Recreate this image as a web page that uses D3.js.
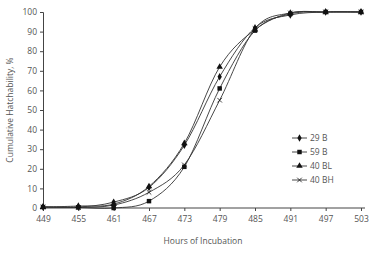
<!DOCTYPE html>
<html><head><meta charset="utf-8">
<script src="https://cdn.jsdelivr.net/npm/d3@7/dist/d3.min.js"></script>
<style>body{margin:0;background:#fff}svg{display:block}</style>
</head><body><svg id="c" width="373" height="255"></svg>
<script>
const hours = [449, 455, 461, 467, 473, 479, 485, 491, 497, 503];
const s29B  = [0.5, 0.5, 3, 10.5, 32, 67, 92, 98.5, 100, 100];
const s59B  = [0.5, 0.3, 0, 3.5, 21, 61, 90.5, 99, 100, 100];
const s40BL = [0.5, 1, 2, 11, 33, 72, 91, 99.5, 100, 100];
const s40BH = [0.5, 0.3, 1.5, 8, 22, 55, 91.5, 99.5, 100, 100];
const seriesNames = ["29 B", "59 B", "40 BL", "40 BH"];
const yTicks = [0,10,20,30,40,50,60,70,80,90,100];

const series = [
  {name: seriesNames[0], values: s29B, sym: d3.symbolDiamond, size: 16},
  {name: seriesNames[1], values: s59B, sym: d3.symbolSquare, size: 20},
  {name: seriesNames[2], values: s40BL, sym: d3.symbolTriangle, size: 18},
  {name: seriesNames[3], values: s40BH, sym: d3.symbolCross, size: 16, xmark: true}
];

const svg = d3.select("#c");
const x = d3.scaleLinear().domain([449, 503]).range([43, 361]);
const y = d3.scaleLinear().domain([0, 100]).range([208, 12]);
const font = "'Open Sans', 'DejaVu Sans', sans-serif";
const txt = "#555";

const yAxis = svg.append("g").attr("transform", "translate(43,0)")
  .call(d3.axisLeft(y).tickValues(yTicks).tickSize(3).tickPadding(3));
const xAxis = svg.append("g").attr("transform", "translate(0,208)")
  .call(d3.axisBottom(x).tickValues(hours).tickSize(3).tickPadding(5));
[yAxis, xAxis].forEach(a => {
  a.selectAll("path,line").attr("stroke", "#444");
  a.selectAll("text").attr("fill", txt).style("font-family", font).style("font-size", "8.5px");
});
xAxis.select("path").attr("d", "M43,0H365");

const line = d3.line().x((d,i) => x(hours[i])).y(d => y(d)).curve(d3.curveCatmullRom.alpha(0));

series.forEach(s => {
  svg.append("path").attr("d", line(s.values)).attr("fill", "none")
    .attr("stroke", "#333").attr("stroke-width", 0.9);
});
const xPath = "M-2.3,-2.3L2.3,2.3M-2.3,2.3L2.3,-2.3";
series.forEach(s => {
  const g = svg.append("g");
  s.values.forEach((v,i) => {
    const p = g.append("path").attr("transform", `translate(${x(hours[i])},${y(v)})`);
    if (s.xmark) p.attr("d", xPath).attr("fill", "none").attr("stroke", "#111").attr("stroke-width", 0.8);
    else p.attr("d", d3.symbol(s.sym, s.size)()).attr("fill", "#111");
  });
});

// legend
const lg = svg.append("g");
series.forEach((s,i) => {
  const yy = 138 + i * 14;
  lg.append("line").attr("x1", 292).attr("x2", 307).attr("y1", yy).attr("y2", yy).attr("stroke", "#333").attr("stroke-width", 0.9);
  if (s.xmark) lg.append("path").attr("d", xPath).attr("transform", `translate(299.5,${yy})`).attr("stroke", "#111").attr("stroke-width", 0.8).attr("fill","none");
  else lg.append("path").attr("d", d3.symbol(s.sym, s.size)()).attr("transform", `translate(299.5,${yy})`).attr("fill", "#111");
  lg.append("text").attr("x", 310).attr("y", yy).attr("dy", "0.35em").text(s.name)
    .attr("fill", txt).style("font-family", font).style("font-size", "8.5px");
});

svg.append("text").attr("transform", "translate(13,110) rotate(-90)").attr("text-anchor", "middle")
  .text("Cumulative Hatchability, %").attr("fill", txt).style("font-family", font).style("font-size", "8.5px");
svg.append("text").attr("x", 203).attr("y", 244).attr("text-anchor", "middle")
  .text("Hours of Incubation").attr("fill", txt).style("font-family", font).style("font-size", "8.5px");
</script></body></html>
